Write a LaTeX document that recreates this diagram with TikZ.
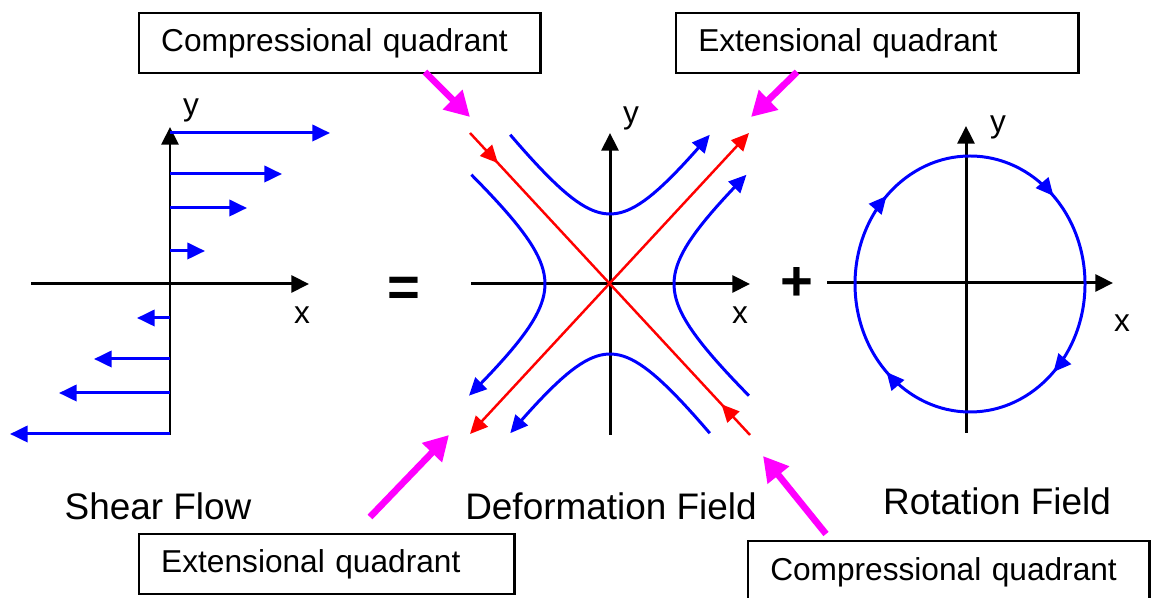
\documentclass[tikz,border=0pt]{standalone}
\usepackage{fontspec}
\setmainfont{Liberation Sans}
\usetikzlibrary{arrows.meta, decorations.markings, positioning}
\definecolor{quadmag}{RGB}{255, 0, 255}
\tikzset{
  axis/.style={line width=0.85pt, -{Triangle[length=5pt,width=4.8pt]}},
  flow/.style={blue, line width=0.85pt, -{Triangle[length=5pt,width=4.6pt]}},
  stream/.style={blue, line width=0.85pt},
  principal/.style={red, line width=0.7pt},
  quadbox/.style={draw, line width=0.7pt, minimum height=0.6cm, inner xsep=0.22cm, align=left, anchor=north west, font=\fontsize{9}{11}\selectfont},
  pointer/.style={quadmag, line width=1.9pt, -{Triangle[length=7pt,width=7.5pt]}},
  axlabel/.style={font=\fontsize{9}{11}\selectfont, inner sep=0pt},
  fieldtitle/.style={font=\fontsize{10.5}{13}\selectfont, inner sep=0pt},
  opsign/.style={font=\fontsize{16}{18}\selectfont\bfseries, inner sep=0pt}
}
\newcommand{\tipstyle}{Triangle[length=5pt,width=4.6pt]}

\begin{document}
\begin{tikzpicture}[x=0.01cm, y=-0.01cm]
    \useasboundingbox (0,0) rectangle (1152,598);

    % 1. Flujo de cizalla
    \draw[axis] (31,284) -- (309,284);
    \draw[axis] (170,435) -- (170,127);
    \node[axlabel] (shearY) at (191,110) {y};
    \node[axlabel] (shearX) at (302,315) {x};
    \foreach \y/\xend in {133/330, 174/282, 208/247, 251/205} {
        \draw[flow] (170,\y) -- (\xend,\y);
    }
    \foreach \y/\xend in {318/137, 359/94, 393/59, 434/10} {
        \draw[flow] (170,\y) -- (\xend,\y);
    }
    \node[fieldtitle] (shearT) at (158,506) {Shear Flow};

    \node[opsign] (eqSign) at (404,292) {=};

    % 2. Campo de deformacion
    \draw[axis] (471,284) -- (750,284);
    \draw[axis] (610,435) -- (610,133);
    \node[axlabel] (defY) at (631,118) {y};
    \node[axlabel] (defX) at (740,315) {x};

    \coordinate (cNW) at (470,133);
    \coordinate (cSE) at (750,435);
    \coordinate (cSW) at (470,434);
    \coordinate (cNE) at (749,133);

    % ejes principales (rojo)
    \draw[principal, postaction={decorate}, decoration={markings,
        mark=at position 0.1 with {\arrow{\tipstyle}},
        mark=at position 0.9 with {\arrowreversed{\tipstyle}}}] (cNW) -- (cSE);
    \draw[principal, {\tipstyle}-{\tipstyle}] (cSW) -- (cNE);

    % lineas de corriente (azul)
    \draw[stream, -{\tipstyle}] plot[domain=-1.39:1.39, samples=40, variable=\t]
        ({610+53*(exp(\t)-exp(-\t))/2}, {284-70*(exp(\t)+exp(-\t))/2});
    \draw[stream, -{\tipstyle}] plot[domain=-1.39:1.39, samples=40, variable=\t]
        ({610-53*(exp(\t)-exp(-\t))/2}, {284+70*(exp(\t)+exp(-\t))/2});
    \draw[stream, -{\tipstyle}] plot[domain=-1.39:1.41, samples=40, variable=\t]
        ({610-65*(exp(\t)+exp(-\t))/2}, {284+58*(exp(\t)-exp(-\t))/2});
    \draw[stream, -{\tipstyle}] plot[domain=-1.41:1.39, samples=40, variable=\t]
        ({610+64*(exp(\t)+exp(-\t))/2}, {284-58*(exp(\t)-exp(-\t))/2});

    \node[fieldtitle] (defT) at (611,506) {Deformation Field};

    \node[opsign] (plusSign) at (797,284) {+};

    % 3. Campo de rotacion
    \draw[axis] (827,283) -- (1113,283);
    \draw[axis] (966,433) -- (966,126);
    \node[axlabel] (rotY) at (998,127) {y};
    \node[axlabel] (rotX) at (1122,323) {x};
    \draw[stream, postaction={decorate}, decoration={markings,
        mark=at position 0.125 with {\arrow{\tipstyle}},
        mark=at position 0.375 with {\arrow{\tipstyle}},
        mark=at position 0.625 with {\arrow{\tipstyle}},
        mark=at position 0.875 with {\arrow{\tipstyle}}}]
        (970,284) ellipse [x radius=115, y radius=128];
    \node[fieldtitle] (rotT) at (997,501) {Rotation Field};

    % 4. Cuadros de cuadrantes y flechas
    \node[quadbox, text width=3.57cm] (boxTL) at (138,12) {Compressional quadrant};
    \node[quadbox, text width=3.58cm] (boxTR) at (675,12) {Extensional quadrant};
    \node[quadbox, text width=3.31cm] (boxBL) at (138,533) {Extensional quadrant};
    \node[quadbox, text width=3.57cm, minimum height=0.63cm] (boxBR) at (747,540) {Compressional quadrant};

    \coordinate (tailTL) at (425,72);  \coordinate (tipTL) at (470,117);
    \coordinate (tailTR) at (797,72);  \coordinate (tipTR) at (751,117);
    \coordinate (tailBL) at (370,517); \coordinate (tipBL) at (449,435);
    \coordinate (tailBR) at (826,534); \coordinate (tipBR) at (763,456);
    \draw[pointer] (tailTL) -- (tipTL);
    \draw[pointer] (tailTR) -- (tipTR);
    \draw[pointer] (tailBL) -- (tipBL);
    \draw[pointer] (tailBR) -- (tipBR);

\end{tikzpicture}
\end{document}
